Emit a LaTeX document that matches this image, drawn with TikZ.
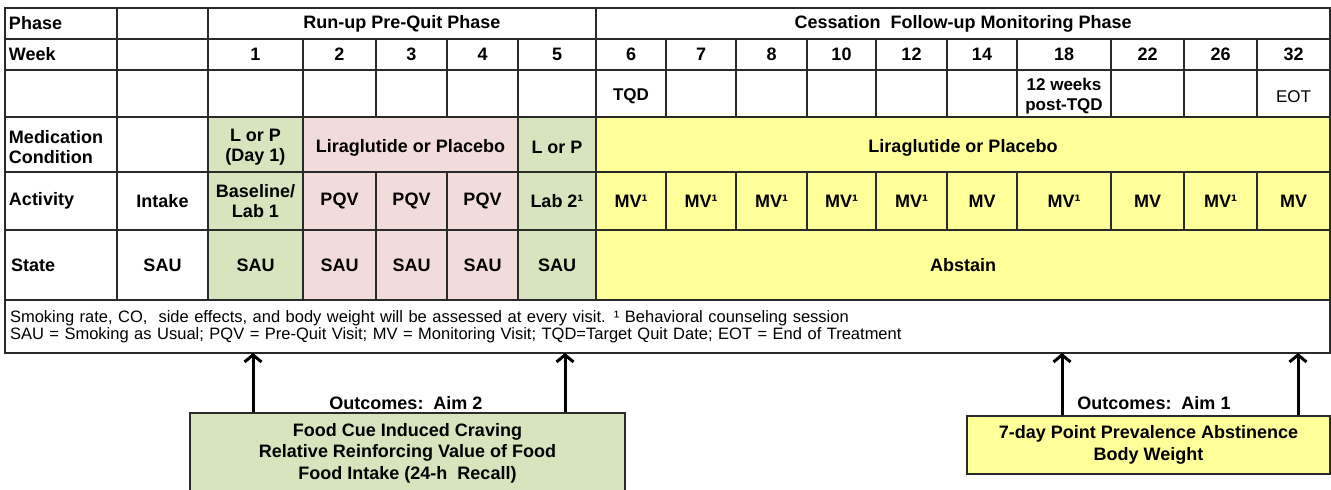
\documentclass[tikz,border=0pt]{standalone}
\usepackage{fontspec}
\setmainfont{Liberation Sans}
\usetikzlibrary{positioning,arrows.meta}

\definecolor{labgreen}{HTML}{D7E4BD}
\definecolor{runpink}{HTML}{F2DCDB}
\definecolor{monyellow}{HTML}{FFFF99}
\definecolor{gridgray}{HTML}{2A2A2A}

\newcommand{\lowered}[1]{\raisebox{-3pt}[\height][\depth]{#1}}

\begin{document}
\begin{tikzpicture}[
                    x=1pt, y=-1pt,
                    node distance=0pt,
                    cell/.style={draw=gridgray, line width=1.3pt, outer sep=0pt, inner sep=2pt,
                                 align=center, font=\bfseries\fontsize{18}{20}\selectfont},
                    lbl/.style={cell, align=left, text width=104pt, inner xsep=4pt},
                    green/.style={cell, fill=labgreen},
                    pink/.style={cell, fill=runpink},
                    yellow/.style={cell, fill=monyellow},
                    plain/.style={font=\fontsize{17}{20}\selectfont},
                    small/.style={font=\bfseries\fontsize{17}{20}\selectfont},
                    outbox/.style={draw=gridgray, line width=1.3pt, align=center,
                                   font=\bfseries\fontsize{18}{21.5}\selectfont},
                    outarrow/.style={line width=3pt, -{Straight Barb[length=7pt,width=17pt]}}
                ]
                \clip (0,0) rectangle (1331,490);
                % Phase row
                \node [lbl, minimum height=31pt, anchor=north west] (phase) at (5,8) {Phase};
                \node [cell, minimum width=91pt, minimum height=31pt, right=of phase] (phblank) {};
                \node [cell, minimum width=388pt, minimum height=31pt, right=of phblank] (runup) {Run-up Pre-Quit Phase};
                \node [cell, minimum width=734pt, minimum height=31pt, right=of runup] (cessation) {Cessation\ \ Follow-up Monitoring Phase};

                % Week row
                \node [lbl, minimum height=31pt, below=of phase] (week) {Week};
                \node [cell, minimum width=91pt, minimum height=31pt, right=of week] (wkblank) {};
                \node [cell, minimum width=95pt, minimum height=31pt, right=of wkblank] (w1) {1};
                \node [cell, minimum width=73pt, minimum height=31pt, right=of w1] (w2) {2};
                \node [cell, minimum width=71pt, minimum height=31pt, right=of w2] (w3) {3};
                \node [cell, minimum width=71pt, minimum height=31pt, right=of w3] (w4) {4};
                \node [cell, minimum width=78pt, minimum height=31pt, right=of w4] (w5) {5};
                \node [cell, minimum width=70pt, minimum height=31pt, right=of w5] (w6) {6};
                \node [cell, minimum width=70pt, minimum height=31pt, right=of w6] (w7) {7};
                \node [cell, minimum width=71pt, minimum height=31pt, right=of w7] (w8) {8};
                \node [cell, minimum width=69pt, minimum height=31pt, right=of w8] (w10) {10};
                \node [cell, minimum width=71pt, minimum height=31pt, right=of w10] (w12) {12};
                \node [cell, minimum width=70pt, minimum height=31pt, right=of w12] (w14) {14};
                \node [cell, minimum width=94pt, minimum height=31pt, right=of w14] (w18) {18};
                \node [cell, minimum width=73pt, minimum height=31pt, right=of w18] (w22) {22};
                \node [cell, minimum width=73pt, minimum height=31pt, right=of w22] (w26) {26};
                \node [cell, minimum width=73pt, minimum height=31pt, right=of w26] (w32) {32};

                % Milestone row
                \node [lbl, minimum height=47pt, below=of week] (mile) {};
                \node [cell, minimum width=91pt, minimum height=47pt, right=of mile] (mlblank) {};
                \node [cell, minimum width=95pt, minimum height=47pt, below=of w1] (m1) {};
                \node [cell, minimum width=73pt, minimum height=47pt, below=of w2] (m2) {};
                \node [cell, minimum width=71pt, minimum height=47pt, below=of w3] (m3) {};
                \node [cell, minimum width=71pt, minimum height=47pt, below=of w4] (m4) {};
                \node [cell, minimum width=78pt, minimum height=47pt, below=of w5] (m5) {};
                \node [cell, small, minimum width=70pt, minimum height=47pt, below=of w6] (m6) {\lowered{TQD}};
                \node [cell, minimum width=70pt, minimum height=47pt, below=of w7] (m7) {};
                \node [cell, minimum width=71pt, minimum height=47pt, below=of w8] (m8) {};
                \node [cell, minimum width=69pt, minimum height=47pt, below=of w10] (m10) {};
                \node [cell, minimum width=71pt, minimum height=47pt, below=of w12] (m12) {};
                \node [cell, minimum width=70pt, minimum height=47pt, below=of w14] (m14) {};
                \node [cell, small, minimum width=94pt, minimum height=47pt, below=of w18] (m18) {\lowered{\parbox{90pt}{\centering 12 weeks\\post-TQD}}};
                \node [cell, minimum width=73pt, minimum height=47pt, below=of w22] (m22) {};
                \node [cell, minimum width=73pt, minimum height=47pt, below=of w26] (m26) {};
                \node [cell, plain, minimum width=73pt, minimum height=47pt, below=of w32] (m32) {\lowered{EOT}};

                % Medication row
                \node [lbl, minimum height=55pt, below=of mile] (med) {\lowered{\parbox{104pt}{Medication\\Condition}}};
                \node [cell, minimum width=91pt, minimum height=55pt, right=of med] (medblank) {};
                \node [green, minimum width=95pt, minimum height=55pt, right=of medblank] (medA) {\lowered{\parbox{91pt}{\centering L or\ P\\(Day 1)}}};
                \node [pink, minimum width=215pt, minimum height=55pt, right=of medA] (medB) {\lowered{Liraglutide or Placebo}};
                \node [green, minimum width=78pt, minimum height=55pt, right=of medB] (medC) {\lowered{L or P}};
                \node [yellow, minimum width=734pt, minimum height=55pt, right=of medC] (medD) {\lowered{Liraglutide or Placebo}};

                % Activity row
                \node [lbl, minimum height=58pt, below=of med] (act) {Activity};
                \node [cell, minimum width=91pt, minimum height=58pt, right=of act] (intake) {Intake};
                \node [green, minimum width=95pt, minimum height=58pt, right=of intake] (a1) {Baseline/\\Lab 1};
                \node [pink, minimum width=73pt, minimum height=58pt, right=of a1] (a2) {PQV};
                \node [pink, minimum width=71pt, minimum height=58pt, right=of a2] (a3) {PQV};
                \node [pink, minimum width=71pt, minimum height=58pt, right=of a3] (a4) {PQV};
                \node [green, minimum width=78pt, minimum height=58pt, right=of a4] (a5) {Lab 2¹};
                \node [yellow, minimum width=70pt, minimum height=58pt, right=of a5] (a6) {MV¹};
                \node [yellow, minimum width=70pt, minimum height=58pt, right=of a6] (a7) {MV¹};
                \node [yellow, minimum width=71pt, minimum height=58pt, right=of a7] (a8) {MV¹};
                \node [yellow, minimum width=69pt, minimum height=58pt, right=of a8] (a10) {MV¹};
                \node [yellow, minimum width=71pt, minimum height=58pt, right=of a10] (a12) {MV¹};
                \node [yellow, minimum width=70pt, minimum height=58pt, right=of a12] (a14) {MV};
                \node [yellow, minimum width=94pt, minimum height=58pt, right=of a14] (a18) {MV¹};
                \node [yellow, minimum width=73pt, minimum height=58pt, right=of a18] (a22) {MV};
                \node [yellow, minimum width=73pt, minimum height=58pt, right=of a22] (a26) {MV¹};
                \node [yellow, minimum width=73pt, minimum height=58pt, right=of a26] (a32) {MV};

                % State row
                \node [lbl, minimum height=70pt, below=of act] (state) {\hspace{2pt}State};
                \node [cell, minimum width=91pt, minimum height=70pt, right=of state] (sau0) {SAU};
                \node [green, minimum width=95pt, minimum height=70pt, right=of sau0] (s1) {SAU};
                \node [pink, minimum width=73pt, minimum height=70pt, right=of s1] (s2) {SAU};
                \node [pink, minimum width=71pt, minimum height=70pt, right=of s2] (s3) {SAU};
                \node [pink, minimum width=71pt, minimum height=70pt, right=of s3] (s4) {SAU};
                \node [green, minimum width=78pt, minimum height=70pt, right=of s4] (s5) {SAU};
                \node [yellow, minimum width=734pt, minimum height=70pt, right=of s5] (abstain) {Abstain};

                % Legend
                \node [cell, anchor=north west, minimum width=1325pt, minimum height=53pt, text width=1315pt,
                       align=left, font=\fontsize{16.5}{17}\selectfont] (legend) at (state.south west)
                      {Smoking rate, CO,\ \ side effects, and body weight will be assessed at every visit. ¹ Behavioral counseling session\\
                       SAU\ = Smoking as Usual; PQV = Pre-Quit Visit; MV\ = Monitoring Visit; TQD=Target\ Quit Date; EOT\ = End of Treatment};

                % Outcome boxes
                \node [outbox, fill=labgreen, minimum width=435pt, minimum height=80pt] (aimtwo) at (407.5,453) {Food Cue Induced Craving\\Relative Reinforcing Value of Food\\Food Intake (24-h\ \ Recall)};
                \node [font=\bfseries\fontsize{18}{20}\selectfont] (aimtwolbl) at (406,403) {Outcomes:\ \ Aim 2};
                \node [outbox, fill=monyellow, minimum width=363pt, minimum height=58pt] (aimone) at (1148.5,445) {7-day Point Prevalence Abstinence\\Body Weight};
                \node [font=\bfseries\fontsize{18}{20}\selectfont] (aimonelbl) at (1154,403) {Outcomes:\ \ Aim 1};

                % Connections
                \coordinate (lab1) at (253,353);
                \coordinate (lab2) at (565,353);
                \coordinate (ppa) at (1062,353);
                \coordinate (eot) at (1298,353);
                \draw [outarrow] (aimtwo.north -| lab1) -- (lab1);
                \draw [outarrow] (aimtwo.north -| lab2) -- (lab2);
                \draw [outarrow] (aimone.north -| ppa) -- (ppa);
                \draw [outarrow] (aimone.north -| eot) -- (eot);
            \end{tikzpicture}
\end{document}
